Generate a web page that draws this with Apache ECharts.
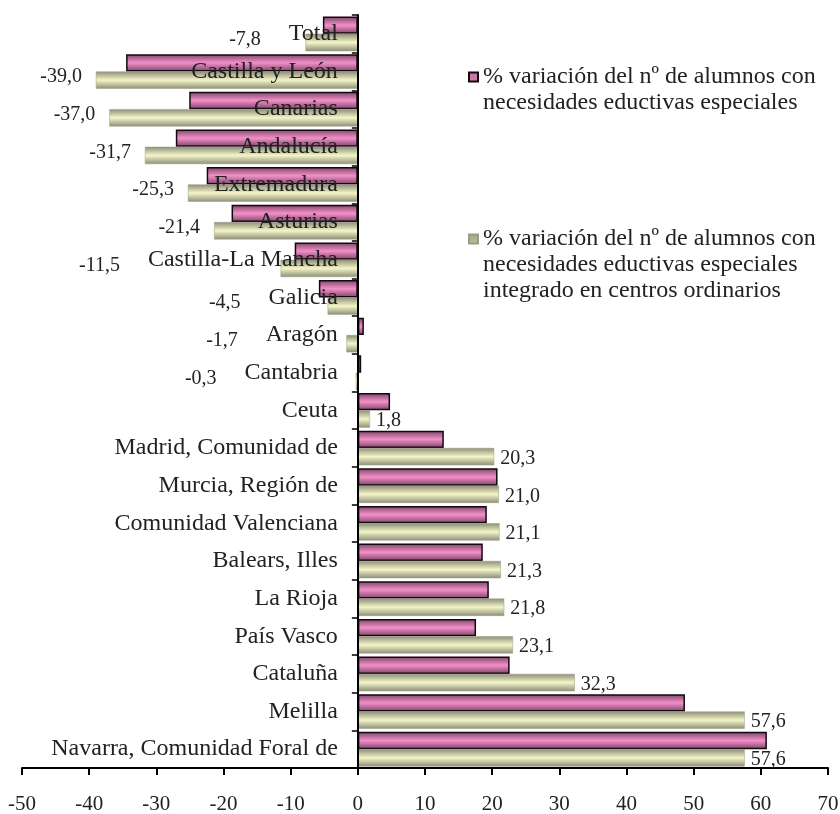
<!DOCTYPE html>
<html>
<head>
<meta charset="utf-8">
<script src="https://cdn.jsdelivr.net/npm/echarts@6/dist/echarts.min.js"></script>
<style>
  html, body { margin: 0; padding: 0; background: #fff; }
  #chart { width: 840px; height: 814px; }
</style>
</head>
<body>
<div id="chart"></div>
<script>
var categories = ['Total', 'Castilla y León', 'Canarias', 'Andalucía', 'Extremadura', 'Asturias',
    'Castilla-La Mancha', 'Galicia', 'Aragón', 'Cantabria', 'Ceuta', 'Madrid, Comunidad de',
    'Murcia, Región de', 'Comunidad Valenciana', 'Balears, Illes', 'La Rioja', 'País Vasco',
    'Cataluña', 'Melilla', 'Navarra, Comunidad Foral de'];
var alumnosNee = [-5.2, -34.5, -25.1, -27.1, -22.5, -18.8, -9.4, -5.8, 0.9, 0.5, 4.8, 12.8,
    20.8, 19.2, 18.6, 19.5, 17.6, 22.6, 48.7, 60.9];
var alumnosIntegrados = [-7.8, -39.0, -37.0, -31.7, -25.3, -21.4, -11.5, -4.5, -1.7, -0.3, 1.8, 20.3,
    21.0, 21.1, 21.3, 21.8, 23.1, 32.3, 57.6, 57.6];
var xTicks = [-50, -40, -30, -20, -10, 0, 10, 20, 30, 40, 50, 60, 70];
var serieNames = [
    '% variación del nº de alumnos con\nnecesidades eductivas especiales',
    '% variación del nº de alumnos con\nnecesidades eductivas especiales\nintegrado en centros ordinarios'
];

var FONT = '"Liberation Serif", "Times New Roman", serif';
var CAT_SIZE = 24;
var LEG_LH = 26;
var LEG_MAX_LINES = 3;
var GRID = {left: 22, right: 12, top: 15, bottom: 46};
var X_MIN = -50, X_MAX = 70;

function fmt(v) {
    return v.toFixed(1).replace('.', ',');
}

function vGrad(edge, mid) {
    return new echarts.graphic.LinearGradient(0, 0, 0, 1, [
        {offset: 0, color: edge},
        {offset: 0.5, color: mid},
        {offset: 1, color: edge}
    ]);
}

// etiquetas: a la izquierda si negativo, evitando el nombre de la categoría
function buildLabels(chart) {
    var ctx = document.createElement('canvas').getContext('2d');
    ctx.font = CAT_SIZE + 'px ' + FONT;
    var zeroX = chart ? chart.convertToPixel({xAxisIndex: 0}, 0) : 0;
    var items = [];
    for (var i = 0; i < alumnosIntegrados.length; i++) {
        var v = alumnosIntegrados[i];
        var item = {value: v};
        if (v < 0) {
            var dist = 14;
            if (chart) {
                var endX = chart.convertToPixel({xAxisIndex: 0}, v);
                var catLeft = zeroX - 20 - ctx.measureText(categories[i]).width;
                var right = Math.max(66, Math.min(endX - 14, catLeft - 28));
                dist = endX - right;
            }
            item.label = {position: 'left', distance: dist, offset: [0, -3]};
        } else {
            item.label = {position: 'right', distance: 6, offset: [0, 2]};
        }
        items.push(item);
    }
    return items;
}

// cuadrado de la leyenda alineado con la primera línea del texto
function legendIcon(lines) {
    var h = LEG_MAX_LINES * LEG_LH;
    var textTop = (h - lines * LEG_LH) / 2;
    var c = textTop + LEG_LH / 2;
    return 'path://M0,' + (c - 4.5) + 'L9,' + (c - 4.5) + 'L9,' + (c + 4.5) + 'L0,' + (c + 4.5) +
        'ZM0,0L0,0M0,' + h + 'L0,' + h;
}

// eje de categorías sobre el 0
var plotW = 840 - GRID.left - GRID.right;
var yOffset = -plotW * (0 - X_MIN) / (X_MAX - X_MIN);

var legendData = [];
for (var k = 0; k < serieNames.length; k++) {
    legendData.push({name: serieNames[k], icon: legendIcon(serieNames[k].split('\n').length)});
}

var myChart = echarts.init(document.getElementById('chart'));
myChart.setOption({
    animation: false,
    grid: {left: GRID.left, right: GRID.right, top: GRID.top, bottom: GRID.bottom,
        containLabel: false, outerBoundsMode: 'none'},
    legend: {
        orient: 'vertical',
        left: 463,
        top: 45,
        itemGap: 95,
        itemWidth: 9,
        itemHeight: LEG_MAX_LINES * LEG_LH,
        data: legendData,
        textStyle: {fontFamily: FONT, fontSize: 24, color: '#222', lineHeight: LEG_LH}
    },
    xAxis: {
        type: 'value',
        min: X_MIN,
        max: X_MAX,
        interval: 10,
        splitLine: {show: false},
        axisLine: {show: true, lineStyle: {color: '#000', width: 2}},
        axisTick: {show: true, length: 7, lineStyle: {color: '#000', width: 2}},
        axisLabel: {
            margin: 26, fontFamily: FONT, fontSize: 21, color: '#222',
            formatter: function (v) { return xTicks.indexOf(v) >= 0 ? String(v) : ''; }
        }
    },
    yAxis: {
        type: 'category',
        data: categories,
        inverse: true,
        offset: yOffset,
        z: 5,
        axisLine: {show: true, onZero: false, lineStyle: {color: '#000', width: 2}},
        axisTick: {show: true, length: 6, lineStyle: {color: '#000', width: 1.5}},
        axisLabel: {margin: 20, padding: [8, 0, 0, 0], fontFamily: FONT, fontSize: CAT_SIZE, color: '#222'}
    },
    series: [{
        name: serieNames[0],
        type: 'bar',
        data: alumnosNee,
        barGap: '0%',
        barCategoryGap: '8%',
        itemStyle: {color: vGrad('#7c4468', '#f390c8'), borderColor: '#140810', borderWidth: 1.5}
    }, {
        name: serieNames[1],
        type: 'bar',
        data: buildLabels(null),
        barGap: '0%',
        barCategoryGap: '8%',
        itemStyle: {color: vGrad('#8c8e76', '#f4f5c8'), borderColor: '#9a9c88', borderWidth: 0.5},
        label: {
            show: true,
            fontFamily: FONT, fontSize: 20, color: '#222',
            formatter: function (p) { return fmt(p.value); }
        }
    }]
});
myChart.setOption({series: [{}, {data: buildLabels(myChart)}]});
</script>
</body>
</html>
